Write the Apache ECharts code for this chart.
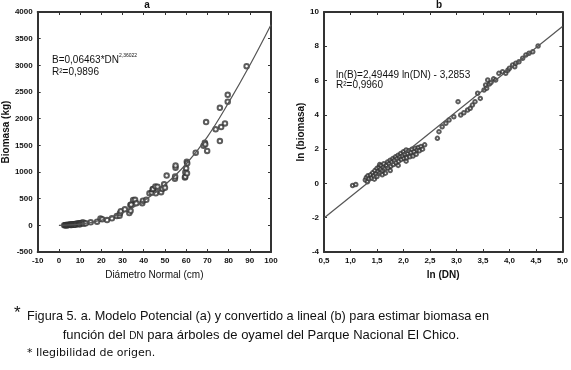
<!DOCTYPE html>
<html>
<head>
<meta charset="utf-8">
<script src="https://cdn.jsdelivr.net/npm/echarts@6/dist/echarts.min.js"></script>
<style>
  html, body { margin: 0; padding: 0; background: #fff; }
  #chart { width: 571px; height: 370px; }
</style>
</head>
<body>
<div id="chart"></div>
<script>
  // panel a: [DN (cm), biomasa (kg)]
  const pointsA = [
    [2.5, 2], [3, 3], [3.2, 1], [3.3, 4], [3.6, 5], [4, 6], [4, 2], [4.2, 7], [4.5, 8], [4.8, 9],
    [5, 10], [5.3, 11], [5.5, 4], [5.6, 12], [6, 14], [6, 6], [6.3, 15], [6.6, 17], [7, 19], [7, 10],
    [7.3, 21], [7.6, 23], [8, 25], [8, 12], [8.4, 28], [8.8, 30], [9.2, 33], [9.5, 20], [9.6, 36],
    [10, 40], [10, 22], [10.5, 43], [11, 48], [11.5, 52], [11.8, 30],
    [12.7, 38], [15, 57], [18, 68], [19.6, 128], [20.4, 113], [22.7, 100], [25, 131], [27.3, 175],
    [28.6, 178], [28.8, 225], [29.2, 266], [31.1, 300], [33.2, 229], [33.7, 380], [33.8, 272],
    [34.1, 390], [35, 475], [35.9, 478], [36.5, 413], [39.3, 415], [39.6, 462], [41.2, 478],
    [42.7, 600], [43.8, 615], [44.2, 675], [44.4, 683], [45.5, 727], [45.7, 600], [46.5, 725],
    [48.2, 621], [48.8, 683], [49.6, 770], [50, 706], [50.8, 933], [54.7, 874], [54.8, 915],
    [55, 1082], [55, 1120], [59.4, 895], [59.6, 912], [59.6, 995], [60, 1070], [60.4, 976],
    [60.3, 1193], [60.5, 1163], [64.5, 1363], [68.2, 1494], [68.8, 1550], [69.0, 1519],
    [69.4, 1936], [69.9, 1394], [73.9, 1801], [75.9, 1581], [75.9, 2204], [76.5, 1843],
    [78.3, 1911], [79.6, 2318], [79.6, 2448], [88.5, 2984]
  ];
  // fitted curve of panel a
  const curveA = [
    [0, 0], [10, 22], [20, 95], [30, 235], [40, 455], [50, 760], [60, 1150],
    [70, 1660], [80, 2300], [90, 3000], [100, 3760]
  ];
  // panel b: [ln(DN), ln(biomasa)]
  const pointsB = [
    [1.04, -0.12], [1.10, -0.06],
    [1.28, 0.20], [1.30, 0.35], [1.32, 0.10], [1.33, 0.45], [1.35, 0.28], [1.38, 0.50],
    [1.40, 0.32], [1.42, 0.62], [1.44, 0.45], [1.45, 0.25], [1.46, 0.75], [1.48, 0.55],
    [1.50, 0.88], [1.50, 0.40], [1.52, 0.70], [1.54, 0.95], [1.55, 0.60], [1.55, 1.10],
    [1.57, 0.82], [1.58, 1.05], [1.60, 0.72], [1.60, 0.50], [1.62, 0.95], [1.63, 1.15],
    [1.65, 0.85], [1.66, 0.60], [1.68, 1.05], [1.70, 1.25], [1.71, 0.90], [1.73, 1.15],
    [1.75, 1.35], [1.75, 0.75], [1.76, 1.00], [1.78, 1.25], [1.80, 1.45], [1.81, 1.10],
    [1.83, 1.35], [1.85, 1.55], [1.86, 1.20], [1.88, 1.45], [1.90, 1.65], [1.90, 1.05],
    [1.91, 1.30], [1.93, 1.55], [1.95, 1.75], [1.96, 1.40], [1.98, 1.60], [2.00, 1.85],
    [2.01, 1.45], [2.03, 1.70], [2.05, 1.95], [2.05, 1.30], [2.06, 1.50], [2.08, 1.75],
    [2.10, 1.90], [2.12, 1.55], [2.14, 1.80], [2.16, 2.00], [2.18, 1.60], [2.20, 1.85],
    [2.22, 2.05], [2.24, 1.70], [2.26, 1.95], [2.28, 2.10], [2.30, 1.90], [2.33, 2.15],
    [2.36, 2.00], [2.40, 2.25],
    [2.64, 2.63], [2.67, 3.02], [2.73, 3.31], [2.80, 3.51], [2.86, 3.70], [2.95, 3.89],
    [3.03, 4.77], [3.08, 3.99], [3.14, 4.12], [3.21, 4.28], [3.26, 4.38], [3.30, 4.57],
    [3.35, 4.77], [3.40, 5.26], [3.45, 4.96], [3.52, 5.45], [3.55, 5.74], [3.57, 5.55],
    [3.59, 6.03], [3.62, 5.80], [3.65, 5.88], [3.70, 6.10], [3.74, 6.03], [3.80, 6.42],
    [3.87, 6.52], [3.93, 6.42], [3.97, 6.60], [4.00, 6.72], [4.06, 6.91], [4.10, 6.80],
    [4.12, 7.01], [4.18, 7.10], [4.25, 7.30], [4.31, 7.49], [4.37, 7.59], [4.44, 7.68],
    [4.54, 8.02]
  ];
  // straight fit of panel b
  const lineB = [[0.5, -2.02], [5.0, 9.15]];

  // axis ranges [min, max, interval]
  const xRangeA = [-10, 100, 10];
  const yRangeA = [-500, 4000, 500];
  const xRangeB = [0.5, 5.0, 0.5];
  const yRangeB = [-4, 10, 2];

  const narrow = '"Liberation Sans Narrow", "Liberation Sans", Arial, sans-serif';
  const sans = '"Liberation Sans", Arial, sans-serif';
  const axisColor = '#333';

  const plain = function (v) { return String(v); };
  const comma = function (v) { return v.toFixed(1).replace('.', ','); };

  function axis(range, opts, fmt) {
    let a = {
      type: 'value',
      min: range[0],
      max: range[1],
      interval: range[2],
      splitLine: { show: false },
      axisLine: { show: true, onZero: false, lineStyle: { color: axisColor, width: 2 } },
      axisTick: { show: true, inside: true, length: 3, lineStyle: { color: axisColor } },
      axisLabel: {
        show: true, color: '#111', fontSize: 8, fontWeight: 'bold',
        fontFamily: narrow, margin: 5, formatter: fmt || plain
      },
      nameTextStyle: { color: '#111', fontFamily: narrow, fontSize: 10, fontWeight: 'bold' }
    };
    return Object.assign(a, opts);
  }
  function mirror(range, opts) {
    return axis(range, Object.assign({ axisLabel: { show: false } }, opts));
  }

  let chart = echarts.init(document.getElementById('chart'));

  let option = {
    backgroundColor: '#fff',
    animation: false,
    grid: [
      { left: 33, top: 12, width: 238, height: 240 },
      { left: 324, top: 12, width: 239, height: 240 }
    ],
    xAxis: [
      axis(xRangeA, {
        gridIndex: 0, name: 'Diámetro Normal (cm)', nameLocation: 'middle', nameGap: 18,
        nameTextStyle: { color: '#111', fontFamily: narrow, fontSize: 10 }
      }),
      mirror(xRangeA, { gridIndex: 0, position: 'top' }),
      axis(xRangeB, { gridIndex: 1, name: 'ln (DN)', nameLocation: 'middle', nameGap: 18 }, comma),
      mirror(xRangeB, { gridIndex: 1, position: 'top' })
    ],
    yAxis: [
      axis(yRangeA, { gridIndex: 0, name: 'Biomasa (kg)', nameLocation: 'middle', nameGap: 21 }),
      mirror(yRangeA, { gridIndex: 0, position: 'right' }),
      axis(yRangeB, { gridIndex: 1, name: 'ln (biomasa)', nameLocation: 'middle', nameGap: 15 }),
      mirror(yRangeB, { gridIndex: 1, position: 'right' })
    ],
    series: [
      {
        type: 'scatter', xAxisIndex: 0, yAxisIndex: 0, data: pointsA,
        symbol: 'emptyCircle', symbolSize: 4.5,
        itemStyle: { color: '#333', borderColor: '#333', borderWidth: 0.8 }
      },
      {
        type: 'line', xAxisIndex: 0, yAxisIndex: 0, data: curveA, smooth: 0.4,
        showSymbol: false, lineStyle: { color: '#555', width: 1.2 }
      },
      {
        type: 'scatter', xAxisIndex: 2, yAxisIndex: 2, data: pointsB,
        symbol: 'emptyCircle', symbolSize: 3.5,
        itemStyle: { color: '#333', borderColor: '#333', borderWidth: 0.8 }
      },
      {
        type: 'line', xAxisIndex: 2, yAxisIndex: 2, data: lineB,
        showSymbol: false, lineStyle: { color: '#555', width: 1.2 }
      }
    ],
    graphic: [
      { type: 'text', style: { text: 'a', x: 147, y: 5, align: 'center', verticalAlign: 'middle', fill: '#111', font: 'bold 10px ' + narrow } },
      { type: 'text', style: { text: 'b', x: 439, y: 5, align: 'center', verticalAlign: 'middle', fill: '#111', font: 'bold 10px ' + narrow } },
      {
        type: 'text',
        style: {
          text: '{m|B=0,06463*DN}{s|2,36022}\n{m|R²=0,9896}',
          x: 52, y: 53, fill: '#111',
          rich: {
            m: { fontSize: 10, fontFamily: narrow, lineHeight: 12, verticalAlign: 'bottom' },
            s: { fontSize: 5, fontFamily: narrow, lineHeight: 12, verticalAlign: 'top' }
          }
        }
      },
      {
        type: 'text',
        style: {
          text: 'ln(B)=2,49449 ln(DN) - 3,2853\nR²=0,9960',
          x: 336, y: 70, fill: '#111', font: '10px ' + narrow, lineHeight: 10
        }
      },
      { type: 'text', style: { text: '*', x: 14, y: 305, fill: '#111', font: '17px ' + sans } },
      {
        type: 'text',
        style: {
          text: 'Figura 5. a. Modelo Potencial (a) y convertido a lineal (b) para estimar biomasa en',
          x: 258, y: 316, align: 'center', verticalAlign: 'middle', fill: '#111',
          font: '12.7px ' + sans
        }
      },
      {
        type: 'text',
        style: {
          text: '{n|función del }{c|DN}{n| para árboles de oyamel del Parque Nacional El Chico.}',
          x: 261, y: 334, align: 'center', verticalAlign: 'middle', fill: '#111',
          rich: {
            n: { fontSize: 13, fontFamily: sans, lineHeight: 15, verticalAlign: 'bottom', fill: '#111' },
            c: { fontSize: 10, fontFamily: sans, lineHeight: 14, verticalAlign: 'bottom', fill: '#111' }
          }
        }
      },
      {
        type: 'text',
        style: {
          text: '* Ilegibilidad de origen.',
          x: 27, y: 353, verticalAlign: 'middle', fill: '#111',
          font: '11px "DejaVu Sans", sans-serif'
        }
      }
    ]
  };

  chart.setOption(option);
</script>
</body>
</html>
